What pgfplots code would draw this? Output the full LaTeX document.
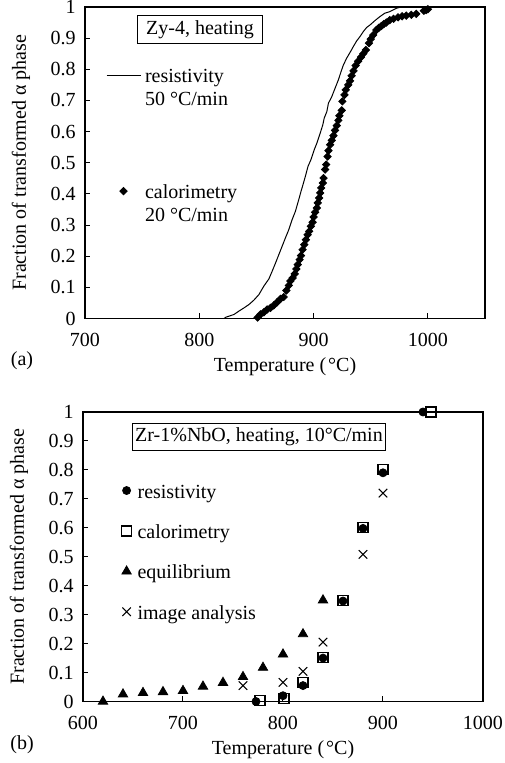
\documentclass[border=0pt]{standalone}
\usepackage{pgfplots}
\pgfplotsset{compat=1.18}
\usepackage{fontspec}
\setmainfont{Liberation Serif}
\newcommand\ls{\rule[-3bp]{0pt}{12bp}}
\pgfplotsset{
  myaxis/.style={
    scale only axis, width=200bp,
    tick align=inside, tick pos=left,
    major tick length=2.5bp,
    /pgf/number format/assume math mode=true,
    /pgf/number format/set thousands separator={},
    axis line style={line width=0.6bp},
    every tick/.style={line width=0.5bp, black},
    ymin=0, ymax=1,
    ytick={0,0.1,0.2,0.3,0.4,0.5,0.6,0.7,0.8,0.9,1},
    yticklabels={0,0.1,0.2,0.3,0.4,0.5,0.6,0.7,0.8,0.9,1},
    ylabel={Fraction of transformed α phase},
    xlabel={Temperature (\kern1bp°C)},
    ylabel style={at={(axis description cs:-0.16,0.5)}, anchor=center},
    xlabel style={at={(axis description cs:0.5,0)}, anchor=center, yshift=-24bp},
    xticklabel style={yshift=-4bp},
    yticklabel style={xshift=-1.2bp},
    legend cell align=left,
  },
  diamleg/.style={legend image code/.code={\path (0cm,0cm) (0.6cm,0cm); \draw[mark repeat=2,mark phase=2,##1] plot coordinates {(0cm,0cm) (0.3cm,0cm) (0.6cm,0cm)};}},
  bl/.style={legend image code/.code={\draw[##1] plot coordinates {(0cm,0cm)};}},
}
\begin{document}
\fontsize{10bp}{12bp}\selectfont
\begin{tikzpicture}
\useasboundingbox (0,0) rectangle (252.5bp,381.5bp);
% ---------------- (a)
\begin{axis}[myaxis,
  at={(42.5bp,222.25bp)}, anchor=south west, height=155.75bp,
  xmin=700, xmax=1050, xtick={700,800,900,1000},
  xticklabels={700,800,900,1000},
  legend style={at={(axis description cs:0.0525,0.815)}, anchor=north west, draw=none, fill=none, inner sep=0pt, outer sep=0pt, row sep=1.1bp, column sep=2bp, nodes={inner sep=0pt}},
]
\addplot[black, line width=0.5bp] coordinates {
(821.7,0) (823.2,0.004) (830.4,0.013) (834.8,0.024) (839.1,0.034) (843.5,0.045) (847.8,0.059) (852.2,0.077) (856.5,0.104) (860.9,0.127) (863.8,0.152) (866.7,0.178) (869.6,0.205) (872.5,0.232) (875.4,0.259) (878.3,0.285) (881.2,0.317) (884.1,0.344) (887.0,0.381) (889.0,0.408) (890.7,0.429) (892.8,0.456) (895.1,0.488) (897.7,0.510) (900.6,0.542) (902.9,0.563) (905.8,0.595) (908.1,0.622) (909.3,0.643) (911.6,0.664) (913.0,0.691) (915.9,0.712) (918.8,0.739) (921.7,0.766) (924.1,0.793) (926.1,0.814) (929.0,0.836) (931.9,0.854) (934.8,0.873) (937.7,0.891) (940.6,0.905) (943.5,0.921) (946.4,0.934) (949.3,0.942) (953.6,0.956) (958.0,0.969) (962.3,0.980) (966.7,0.985) (972.5,0.996) (976.8,1.0) (991.3,1.0)
};
\addlegendentry{\ls resistivity}
\addlegendimage{empty legend}\addlegendentry{\ls 50 °C/min}
\addlegendimage{empty legend}\addlegendentry{\ls}
\addlegendimage{empty legend}\addlegendentry{\ls}
\addlegendimage{empty legend}\addlegendentry{\ls}
\addplot[only marks, diamleg, mark=square*, mark size=1.3bp, mark options={rotate=45, fill=black, draw=black}] coordinates {
(851,0.003) (853.6,0.013) (856.5,0.020) (859.4,0.029) (862.3,0.034) (865.2,0.042) (868.1,0.052) (871.0,0.063) (873.9,0.069) (876.2,0.090) (878.3,0.106) (879.7,0.120) (881.7,0.130) (883.5,0.143) (884.9,0.159) (886.1,0.173) (887.8,0.189) (889.0,0.202) (890.4,0.221) (891.9,0.237) (893.3,0.253) (894.8,0.269) (896.2,0.280) (897.7,0.296) (899.1,0.309) (900.0,0.326) (901.4,0.341) (902.9,0.355) (903.7,0.371) (904.9,0.387) (905.8,0.403) (906.7,0.419) (908.1,0.435) (908.7,0.451) (910.1,0.478) (911.0,0.494) (912.2,0.520) (913.0,0.539) (914.5,0.558) (915.9,0.572) (917.4,0.587) (918.8,0.604) (920.3,0.619) (921.7,0.636) (922.6,0.651) (924.6,0.668) (925.2,0.697) (927.0,0.718) (928.1,0.734) (930.4,0.750) (931.9,0.763) (933.3,0.779) (935.0,0.795) (936.8,0.812) (939.0,0.826) (941.5,0.839) (943.5,0.850) (945.8,0.862) (948.4,0.884) (950.0,0.897) (952.2,0.910) (955.0,0.926) (957.0,0.933) (959.4,0.939) (961.5,0.945) (963.7,0.950) (966.7,0.958) (970.0,0.962) (973.9,0.967) (977.5,0.970) (981.1,0.972) (985.5,0.975) (989.8,0.978) (996.5,0.988) (998.5,0.990) (1000,0.993)
};
\addlegendentry{\ls calorimetry}
\addlegendimage{empty legend}\addlegendentry{\ls 20 °C/min}
\node[draw, line width=0.5bp, inner xsep=4.3bp, inner ysep=2.3bp, text height=6.8bp, text depth=2.2bp] at (axis description cs:0.2875,0.928) {Zy-4, heating};
\end{axis}
% ---------------- (b)
\begin{axis}[myaxis,
  at={(41.5bp,30.75bp)}, anchor=south west, height=144.75bp,
  xmin=600, xmax=1000, xtick={600,700,800,900,1000},
  xticklabels={600,700,800,900,1000},
  legend style={at={(axis description cs:0.0965,0.765)}, anchor=north west, draw=none, fill=none, inner sep=0pt, outer sep=0pt, row sep=9.7bp, column sep=3bp, nodes={inner sep=0pt}},
]
\addplot[only marks, bl, mark=*, mark size=2bp, black] coordinates {
(773,0.0) (800,0.02) (820,0.055) (840,0.15) (860,0.347) (880,0.598) (900,0.79) (940,1.0)
};
\addlegendentry{\ls resistivity}
\addplot[only marks, bl, mark=square, mark size=2.5bp, black, mark options={line width=0.6bp}] coordinates {
(777,0.003) (801,0.01) (820,0.065) (840,0.152) (860,0.35) (880,0.602) (900,0.80) (948,1.0)
};
\addlegendentry{\ls calorimetry}
\addplot[only marks, bl, mark=triangle*, mark size=2.7bp, black] coordinates {
(620,0.0) (640,0.025) (660,0.03) (680,0.033) (700,0.037) (720,0.052) (740,0.065) (760,0.085) (780,0.117) (800,0.163) (820,0.233) (840,0.35)
};
\addlegendentry{\ls equilibrium}
\addplot[only marks, bl, mark=x, mark size=3bp, black, mark options={line width=0.5bp}] coordinates {
(760,0.055) (800,0.066) (820,0.104) (840,0.205) (880,0.508) (900,0.72)
};
\addlegendentry{\ls image analysis}
\node[draw, line width=0.5bp, inner xsep=1.6bp, inner ysep=2.4bp, text height=6.8bp, text depth=2.2bp] at (axis description cs:0.44,0.9136) {Zr-1\%NbO, heating, 10°C/min};
\end{axis}
\node at (11bp,201bp) {(a)};
\node at (11bp,9bp) {(b)};
\end{tikzpicture}
\end{document}
